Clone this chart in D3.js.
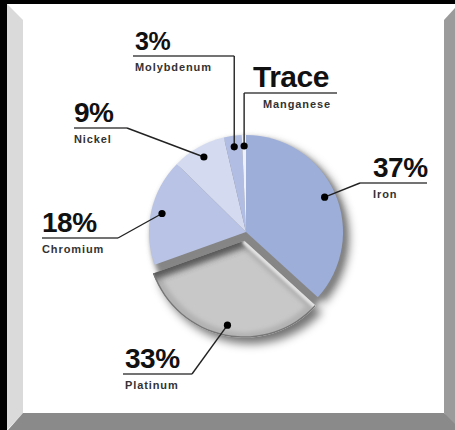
<!DOCTYPE html>
<html><head><meta charset="utf-8">
<script src="https://cdn.jsdelivr.net/npm/d3@7"></script>
<style>html,body{margin:0;padding:0;background:#000}svg{display:block}</style>
</head><body>
<svg id="chart" width="455" height="430"></svg>
<script>
// Composition by element
const metals = ["Iron", "Platinum", "Chromium", "Nickel", "Molybdenum", "Manganese"];
const shares = [37, 33, 18, 9, 3, 0.7];
const shareLabels = ["37%", "33%", "18%", "9%", "3%", "Trace"];

// Slice palette
const sliceColors = ["#9daed9", "#c6c6c6", "#b8c3e5", "#d4dbf1", "#b1bde2", "#eef1fa"];

// Callout layout: big label position, rule extent, elbow, sub-label x
const calloutX = [373, 125, 42, 74, 135, 253];
const calloutY = [177, 368, 232, 122, 50, 87];
const calloutSize = [28, 28, 28, 28, 25, 30];
const ruleSpan = [[360, 427], [123, 192], [42, 118], [74, 127], [133, null], [null, 337]];
const elbowX = [360, 192, 118, 127, null, null];
const subX = [373, 125, 42, 74, 135, 263];

const W = 455, H = 430;
const cx = 246, cy = 232, R = 97, explode = 9, dotR = 86;
const explodedIndex = 1;

const svg = d3.select("#chart");
const defs = svg.append("defs");

function blurFilter(id, sd) {
  const f = defs.append("filter").attr("id", id)
    .attr("x", "-40%").attr("y", "-40%").attr("width", "180%").attr("height", "180%");
  f.append("feGaussianBlur").attr("stdDeviation", sd);
}
blurFilter("dropShadow", 5);
blurFilter("soft3", 3.2);
blurFilter("soft2", 2.6);
blurFilter("soft1", 1.2);
const inset = defs.append("filter").attr("id", "inset")
  .attr("x", "-20%").attr("y", "-20%").attr("width", "140%").attr("height", "140%");
inset.append("feMorphology").attr("operator", "erode").attr("radius", 5).attr("result", "e");
inset.append("feGaussianBlur").attr("in", "e").attr("stdDeviation", 2);

// Bevelled frame
svg.append("rect").attr("width", W).attr("height", H).attr("fill", "#000");
svg.append("rect").attr("x", 7).attr("y", 4).attr("width", W - 7).attr("height", H - 4).attr("fill", "#fff");
svg.append("polygon").attr("points", "7,4 23,20 23,413 7,430").attr("fill", "#dadada");
svg.append("polygon").attr("points", "444,20 455,8 455,430 444,413").attr("fill", "#9b9b9b");
svg.append("polygon").attr("points", "23,413 444,413 455,424 455,430 8,430").attr("fill", "#8a8a8a");

// Pie
const pieData = d3.pie().sort(null).value(d => d)(shares);
const arc = d3.arc().innerRadius(0).outerRadius(R);
const dotArc = d3.arc().innerRadius(dotR).outerRadius(dotR);

function offsetOf(d, i) {
  if (i !== explodedIndex) return [0, 0];
  const mid = (d.startAngle + d.endAngle) / 2;
  return [explode * Math.sin(mid), -explode * Math.cos(mid)];
}

const g = svg.append("g").attr("transform", `translate(${cx},${cy})`);

// soft drop shadow
g.append("g").attr("filter", "url(#dropShadow)").attr("transform", "translate(6,6)")
  .selectAll("path").data(pieData).join("path")
  .attr("d", arc)
  .attr("transform", (d, i) => `translate(${offsetOf(d, i)})`)
  .attr("fill", "#000").attr("opacity", 0.55);

// dark well left behind by the exploded slice
g.append("g").attr("filter", "url(#soft2)")
  .selectAll("path").data(pieData).join("path")
  .attr("d", arc)
  .attr("transform", "translate(2,3)")
  .attr("fill", "#858585");

// flat slices
g.selectAll("path.slice").data(pieData).join("path")
  .attr("class", "slice")
  .attr("d", arc)
  .attr("transform", (d, i) => `translate(${offsetOf(d, i)})`)
  .attr("fill", (d, i) => sliceColors[i]);

// bevelled exploded slice
const pd = pieData[explodedIndex];
const po = offsetOf(pd, explodedIndex);
defs.append("clipPath").attr("id", "platClip")
  .append("path").attr("d", arc(pd)).attr("transform", `translate(${po})`);
const pg = g.append("g").attr("clip-path", "url(#platClip)")
  .append("g").attr("transform", `translate(${po})`);
pg.append("path").attr("d", arc(pd)).attr("fill", "#b2b2b2");
pg.append("path").attr("d", arc(pd)).attr("fill", "#c8c8c8").attr("filter", "url(#inset)");
const ea = pd.endAngle, sa = pd.startAngle;
pg.append("line")
  .attr("x1", 0).attr("y1", 0)
  .attr("x2", (R + 10) * Math.sin(ea)).attr("y2", -(R + 10) * Math.cos(ea))
  .attr("stroke", "#3a3a3a").attr("stroke-width", 12).attr("opacity", 0.75)
  .attr("filter", "url(#soft3)");
pg.append("line")
  .attr("x1", 0).attr("y1", 0)
  .attr("x2", (R + 10) * Math.sin(sa)).attr("y2", -(R + 10) * Math.cos(sa))
  .attr("stroke", "#e2e2e2").attr("stroke-width", 6)
  .attr("filter", "url(#soft1)");
pg.append("path")
  .attr("d", d3.arc().innerRadius(R - 1.5).outerRadius(R)(pd))
  .attr("fill", "#777");

// Callouts
const font = "'Liberation Sans', Arial, sans-serif";
const callouts = svg.append("g");
pieData.forEach((d, i) => {
  const o = offsetOf(d, i);
  const c = dotArc.centroid(d);
  const dot = [cx + c[0] + o[0], cy + c[1] + o[1]];
  const uy = calloutY[i] + 6;
  const ex = elbowX[i] === null ? dot[0] : elbowX[i];
  const x1 = ruleSpan[i][0] === null ? dot[0] : ruleSpan[i][0];
  const x2 = ruleSpan[i][1] === null ? dot[0] : ruleSpan[i][1];

  callouts.append("line").attr("x1", x1).attr("x2", x2).attr("y1", uy).attr("y2", uy)
    .attr("stroke", "#444").attr("stroke-width", 1.6);
  callouts.append("line").attr("x1", ex).attr("y1", uy).attr("x2", dot[0]).attr("y2", dot[1])
    .attr("stroke", "#222").attr("stroke-width", 1.4);
  callouts.append("circle").attr("cx", dot[0]).attr("cy", dot[1]).attr("r", 3.6).attr("fill", "#000");

  callouts.append("text").attr("x", calloutX[i]).attr("y", calloutY[i])
    .attr("font-family", font).attr("font-weight", "bold")
    .attr("font-size", calloutSize[i]).attr("fill", "#111")
    .attr("letter-spacing", -0.5)
    .text(shareLabels[i]);
  callouts.append("text").attr("x", subX[i]).attr("y", calloutY[i] + 21)
    .attr("font-family", font).attr("font-weight", "bold")
    .attr("font-size", 11).attr("fill", "#333")
    .attr("letter-spacing", 0.9)
    .text(metals[i]);
});
</script>
</body></html>
